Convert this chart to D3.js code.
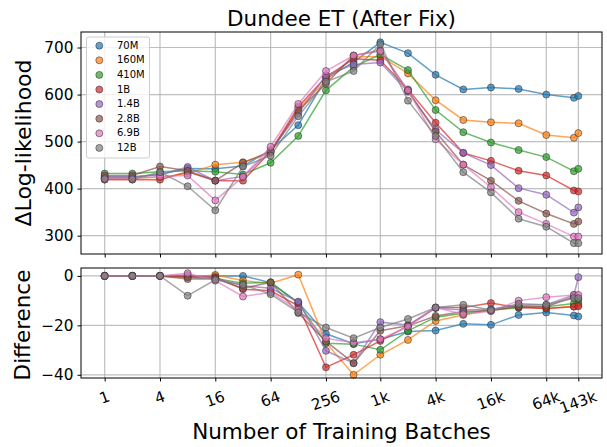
<!DOCTYPE html>
<html>
<head>
<meta charset="utf-8">
<script src="https://cdn.jsdelivr.net/npm/d3@7"></script>
<style>
  body { margin: 0; background: #fff; }
  svg { font-family: "DejaVu Sans", sans-serif; }
</style>
</head>
<body>
<svg id="chart" width="607" height="447"></svg>
<script>
const steps = [1, 2, 4, 8, 16, 32, 64, 128, 256, 512, 1000, 2000, 4000, 8000, 16000, 32000, 64000, 128000, 143000];
const models = ["70M", "160M", "410M", "1B", "1.4B", "2.8B", "6.9B", "12B"];
const colors = ["#1f77b4", "#ff7f0e", "#2ca02c", "#d62728", "#9467bd", "#8c564b", "#e377c2", "#7f7f7f"];

// top panel: delta log-likelihood
const ll70M  = [424, 424, 430, 443, 442, 448, 482, 535, 634, 669, 711, 688, 642, 611, 615, 612, 600, 593, 597];
const ll160M = [422, 422, 424, 432, 451, 456, 476, 570, 630, 680, 681, 645, 588, 546, 541, 539, 514, 508, 518];
const ll410M = [432, 432, 436, 438, 436, 430, 455, 512, 609, 659, 685, 652, 567, 520, 498, 482, 467, 437, 442];
const ll1B   = [419, 419, 419, 436, 417, 417, 479, 574, 637, 676, 673, 611, 540, 476, 459, 438, 428, 396, 394];
const ll1_4B = [425, 425, 430, 446, 417, 426, 480, 560, 641, 664, 668, 606, 525, 476, 450, 401, 387, 349, 360];
const ll2_8B = [428, 428, 447, 438, 417, 455, 479, 566, 623, 683, 694, 608, 521, 451, 417, 374, 347, 325, 330];
const ll6_9B = [422, 422, 426, 428, 375, 425, 489, 580, 650, 683, 692, 609, 505, 451, 403, 350, 325, 298, 298];
const ll12B  = [420, 420, 435, 405, 354, 447, 470, 554, 627, 650, 707, 587, 512, 435, 392, 336, 319, 284, 284];

// bottom panel: difference
const df70M  = [0, 0, 0, 0, 0, 0, -2.7, -10.8, -23.4, -27.4, -25.6, -22.5, -22.1, -19.4, -19.8, -15.8, -14.8, -16, -16.4];
const df160M = [0, 0, 0, -0.5, 0.4, -1.9, -3, 0.5, -27, -40, -31.9, -25.9, -18.2, -15.8, -13.8, -12.5, -13.2, -12.3, -11.8];
const df410M = [0, 0, 0, -0.5, -1, -3, -2.6, -11, -27.2, -27.6, -29.9, -22.2, -16.7, -15.1, -13.8, -12.9, -12.5, -11.2, -10.8];
const df1B   = [0, 0, 0, -0.3, -0.5, -5.4, -6, -12.1, -37, -31.9, -26.3, -20.2, -12.8, -12.8, -11, -12.8, -13.2, -12.5, -12.3];
const df1_4B = [0, 0, 0, 0.4, -1, -4, -5, -10.4, -30.3, -35.3, -18.7, -19.9, -13, -13.8, -13.5, -11.9, -11.7, -7.7, -0.5];
const df2_8B = [0, 0, 0, -1.3, -1.2, -5, -2.6, -15, -26.5, -35.3, -22.2, -20.2, -16.2, -14.4, -14.1, -12.3, -12.5, -8.4, -9.4];
const df6_9B = [0, 0, 0, 1.1, -1.9, -8.3, -6.7, -13.7, -25.2, -27, -25.6, -20.5, -12.8, -15.5, -14.3, -10, -8.6, -7.7, -7.7];
const df12B  = [0, 0, 0, -8, -1.6, -3.6, -7.4, -14.7, -20.9, -25.2, -20.9, -17.4, -12.8, -11.7, -13.8, -11.3, -11.7, -9, -9];

const topSeries = [ll70M, ll160M, ll410M, ll1B, ll1_4B, ll2_8B, ll6_9B, ll12B];
const botSeries = [df70M, df160M, df410M, df1B, df1_4B, df2_8B, df6_9B, df12B];

const xTickVals = [1, 4, 16, 64, 256, 1000, 4000, 16000, 64000, 143000];
const xTickLabels = ["1", "4", "16", "64", "256", "1k", "4k", "16k", "64k", "143k"];
const topTicks = [300, 400, 500, 600, 700];
const botTicks = [0, -20, -40];

const svg = d3.select("#chart");
const left = 81, right = 602;
const tickFont = 15.3, labelFont = 21.5;

const x = d3.scaleLog().base(2)
  .domain([Math.pow(2, -0.856), Math.pow(2, 17.981)])
  .range([left, right]);

const yTop = d3.scaleLinear().domain([261, 733]).range([254, 32]);
const yBot = d3.scaleLinear().domain([-41.3, 3.2]).range([378, 268]);

function panel(y, series, ticks, showXLabels) {
  const [y0, y1] = y.range();
  const g = svg.append("g");

  // grid
  g.selectAll(".gx").data(xTickVals).join("line")
    .attr("x1", d => x(d)).attr("x2", d => x(d))
    .attr("y1", y1).attr("y2", y0)
    .attr("stroke", "#b0b0b0").attr("stroke-width", 1.2).attr("opacity", 0.8);
  g.selectAll(".gy").data(ticks).join("line")
    .attr("x1", left).attr("x2", right)
    .attr("y1", d => y(d)).attr("y2", d => y(d))
    .attr("stroke", "#b0b0b0").attr("stroke-width", 1.2).attr("opacity", 0.8);

  const line = d3.line().x((d, i) => x(steps[i])).y(d => y(d));
  series.forEach((vals, k) => {
    const s = g.append("g");
    s.append("path").datum(vals)
      .attr("fill", "none").attr("stroke", colors[k])
      .attr("stroke-width", 1.5).attr("stroke-opacity", 0.7)
      .attr("d", line);
    s.selectAll("circle").data(vals).join("circle")
      .attr("cx", (d, i) => x(steps[i])).attr("cy", d => y(d))
      .attr("r", 3.5)
      .attr("fill", colors[k]).attr("fill-opacity", 0.7)
      .attr("stroke", "#333").attr("stroke-opacity", 0.7).attr("stroke-width", 0.8);
  });

  // frame
  g.append("rect").attr("x", left).attr("y", y1)
    .attr("width", right - left).attr("height", y0 - y1)
    .attr("fill", "none").attr("stroke", "#000").attr("stroke-width", 1);

  const ax = g.append("g").attr("transform", `translate(0,${y0})`)
    .call(d3.axisBottom(x).tickValues(xTickVals).tickSize(3.5).tickFormat(() => ""));
  ax.select(".domain").remove();
  ax.selectAll("text").remove();
  ax.selectAll("line").attr("stroke", "#000");
  if (showXLabels) {
    // rotated labels, top of rotated box aligned like matplotlib's ha=center
    const rad = 20 * Math.PI / 180;
    g.selectAll(".xl").data(xTickVals).join("text")
      .attr("text-anchor", "middle").attr("dominant-baseline", "middle")
      .attr("font-size", tickFont).attr("fill", "#000")
      .text((d, i) => xTickLabels[i])
      .each(function(d) {
        const w = this.getComputedTextLength();
        const bh = w * Math.sin(rad) + 17.9 * Math.cos(rad);
        const cy = y0 + 10 + bh / 2;
        d3.select(this).attr("transform", `translate(${x(d)},${cy}) rotate(-20)`);
      });
  }

  const ay = g.append("g").attr("transform", `translate(${left},0)`)
    .call(d3.axisLeft(y).tickValues(ticks).tickSize(3.5).tickPadding(4)
      .tickFormat(d => d < 0 ? "\u2212" + Math.abs(d) : d));
  ay.select(".domain").remove();
  ay.selectAll("text").attr("font-size", tickFont).attr("font-family", "DejaVu Sans, sans-serif").attr("fill", "#000");
  ay.selectAll("line").attr("stroke", "#000");
}

panel(yTop, topSeries, topTicks, false);
panel(yBot, botSeries, botTicks, true);

// legend
const lg = svg.append("g");
lg.append("rect").attr("x", 86.5).attr("y", 37).attr("width", 63).attr("height", 121)
  .attr("rx", 2).attr("fill", "#fff").attr("fill-opacity", 0.8)
  .attr("stroke", "#ccc").attr("stroke-width", 1);
models.forEach((m, k) => {
  const yy = 45.7 + k * 14.6;
  lg.append("circle").attr("cx", 99.3).attr("cy", yy).attr("r", 3.5)
    .attr("fill", colors[k]).attr("fill-opacity", 0.7)
    .attr("stroke", "#333").attr("stroke-opacity", 0.7).attr("stroke-width", 0.8);
  lg.append("text").attr("x", 117).attr("y", yy).attr("dominant-baseline", "middle")
    .attr("font-size", 10).attr("fill", "#000").text(m);
});

// titles
svg.append("text").attr("x", 341.5).attr("y", 26).attr("text-anchor", "middle")
  .attr("font-size", labelFont).attr("fill", "#000").text("Dundee ET (After Fix)");
svg.append("text").attr("transform", "translate(31,143) rotate(-90)").attr("text-anchor", "middle")
  .attr("font-size", 22).attr("fill", "#000").text("\u0394Log-likelihood");
svg.append("text").attr("transform", "translate(30,325) rotate(-90)").attr("text-anchor", "middle")
  .attr("font-size", labelFont).attr("fill", "#000").text("Difference");
svg.append("text").attr("x", 341.5).attr("y", 439).attr("text-anchor", "middle")
  .attr("font-size", labelFont).attr("fill", "#000").text("Number of Training Batches");
</script>
</body>
</html>
